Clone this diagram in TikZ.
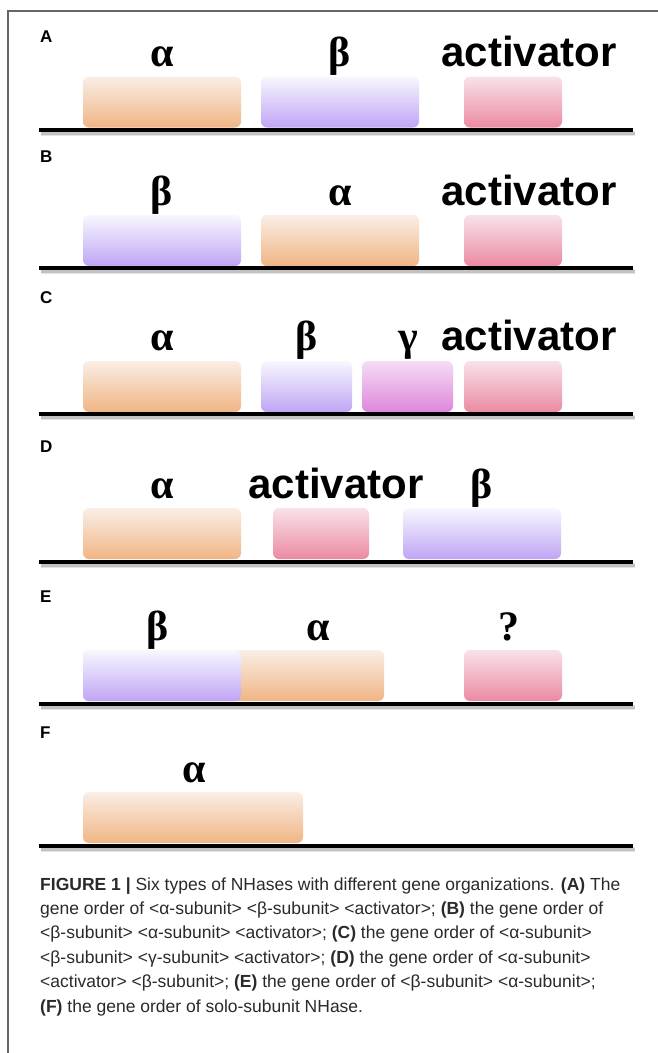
\documentclass[tikz,border=0pt]{standalone}
\usepackage{fontspec}
\setmainfont{Liberation Sans}
\newfontfamily\grkfont{Liberation Serif}
\newfontfamily\capfont{Liberation Sans}
\usetikzlibrary{calc}
\definecolor{orTop}{HTML}{FAEEE6}
\definecolor{orBot}{HTML}{F0B584}
\definecolor{puTop}{HTML}{F8F7FE}
\definecolor{puBot}{HTML}{BFA5F5}
\definecolor{piTop}{HTML}{F8E2E8}
\definecolor{piBot}{HTML}{EC8AA2}
\definecolor{maTop}{HTML}{F4DDF4}
\definecolor{maBot}{HTML}{DE86DC}
\definecolor{framegray}{HTML}{666666}
\definecolor{captext}{HTML}{2A2A2A}
\begin{document}
\begin{tikzpicture}[x=1pt,y=-1pt,
  gene/.style={rectangle,rounded corners=6pt,inner sep=0pt,minimum height=51pt,draw=none},
  orbox/.style={gene,top color=orTop,bottom color=orBot},
  pubox/.style={gene,top color=puTop,bottom color=puBot},
  pibox/.style={gene,top color=piTop,bottom color=piBot},
  mabox/.style={gene,top color=maTop,bottom color=maBot},
  greek/.style={anchor=base,inner sep=0pt,font=\grkfont\bfseries\fontsize{42}{42}\selectfont},
  actlabel/.style={anchor=base,inner sep=0pt,font=\bfseries\fontsize{42}{42}\selectfont},
  panel/.style={anchor=base west,inner sep=0pt,font=\bfseries\fontsize{17}{17}\selectfont},
  dnaline/.style={line width=4pt,black},
  dnashadowA/.style={line width=5pt,black!30,opacity=0.35},
  dnashadowB/.style={line width=2.5pt,black!40,opacity=0.45},
  capline/.style={anchor=base west,inner sep=0pt,text=captext,font=\capfont\fontsize{17.5}{17.5}\selectfont}
]
\useasboundingbox (0,0) rectangle (658,1053);
\fill[white] (0,0) rectangle (658,1053);
% frame
\coordinate (f1) at (8,1053);
\coordinate (f2) at (8,11);
\coordinate (f3) at (658,11);
\draw[framegray,line width=1.1pt] (f1) -- (f2) -- (f3);

% helper macro for a baseline
\newcommand{\dnabase}[2]{%
  \coordinate (#1s) at (39,#2);
  \coordinate (#1e) at (633,#2);
  \draw[dnashadowA] ($(#1s)+(2,3.5)$) -- ($(#1e)+(2,3.5)$);
  \draw[dnashadowB] ($(#1s)+(2,3.5)$) -- ($(#1e)+(2,3.5)$);
  \draw[dnaline] (#1s) -- (#1e);}

% ---------- Panel A ----------
\node[panel] (pA) at (40,42) {A};
\node[orbox,minimum width=158pt] (aA) at (162,102) {};
\node[pubox,minimum width=158pt] (bA) at (340,102) {};
\node[pibox,minimum width=98pt] (cA) at (513,102) {};
\dnabase{lA}{130}
\node[greek] (taA) at (162,66) {α};
\node[greek] (tbA) at (340,66) {β};
\node[actlabel] (tcA) at (529,66) {activator};

% ---------- Panel B ----------
\node[panel] (pB) at (40,162) {B};
\node[pubox,minimum width=158pt] (aB) at (162,240.5) {};
\node[orbox,minimum width=158pt] (bB) at (340,240.5) {};
\node[pibox,minimum width=98pt] (cB) at (513,240.5) {};
\dnabase{lB}{268}
\node[greek] (taB) at (162,205) {β};
\node[greek] (tbB) at (340,205) {α};
\node[actlabel] (tcB) at (529,205) {activator};

% ---------- Panel C ----------
\node[panel] (pC) at (40,303) {C};
\node[orbox,minimum width=158pt] (aC) at (162,386.5) {};
\node[pubox,minimum width=91pt] (bC) at (306.5,386.5) {};
\node[mabox,minimum width=91pt] (gC) at (407.5,386.5) {};
\node[pibox,minimum width=98pt] (cC) at (513,386.5) {};
\dnabase{lC}{414}
\node[greek] (taC) at (162,350) {α};
\node[greek] (tbC) at (307,350) {β};
\node[greek] (tgC) at (408,350) {γ};
\node[actlabel] (tcC) at (529,350) {activator};

% ---------- Panel D ----------
\node[panel] (pD) at (40,452) {D};
\node[orbox,minimum width=158pt] (aD) at (162,533.5) {};
\node[pibox,minimum width=96pt] (cD) at (321,533.5) {};
\node[pubox,minimum width=158pt] (bD) at (482,533.5) {};
\dnabase{lD}{562}
\node[greek] (taD) at (162,498) {α};
\node[actlabel] (tcD) at (336,498) {activator};
\node[greek] (tbD) at (482,498) {β};

% ---------- Panel E ----------
\node[panel] (pE) at (40,602) {E};
\node[orbox,minimum width=301pt] (aE) at (233.5,675.5) {};
\node[pubox,minimum width=158pt] (bE) at (162,675.5) {};
\node[pibox,minimum width=98pt] (cE) at (513,675.5) {};
\dnabase{lE}{704}
\node[greek] (tbE) at (158,640) {β};
\node[greek] (taE) at (318,640) {α};
\node[greek] (tqE) at (509,640) {?};

% ---------- Panel F ----------
\node[panel] (pF) at (40,738) {F};
\node[orbox,minimum width=220pt] (aF) at (193,817.5) {};
\dnabase{lF}{846}
\node[greek] (taF) at (194,782) {α};

% ---------- Caption ----------
\node[capline] (c1) at (40,890) {\textbf{FIGURE 1 |} Six types of NHases with different gene organizations. \textbf{(A)} The};
\node[capline] (c2) at (40,914.4) {gene order of <α-subunit> <β-subunit> <activator>; \textbf{(B)} the gene order of};
\node[capline] (c3) at (40,938.8) {<β-subunit> <α-subunit> <activator>; \textbf{(C)} the gene order of <α-subunit>};
\node[capline] (c4) at (40,963.2) {<β-subunit> <γ-subunit> <activator>; \textbf{(D)} the gene order of <α-subunit>};
\node[capline] (c5) at (40,987.6) {<activator> <β-subunit>; \textbf{(E)} the gene order of <β-subunit> <α-subunit>;};
\node[capline] (c6) at (40,1012) {\textbf{(F)} the gene order of solo-subunit NHase.};
\end{tikzpicture}
\end{document}
